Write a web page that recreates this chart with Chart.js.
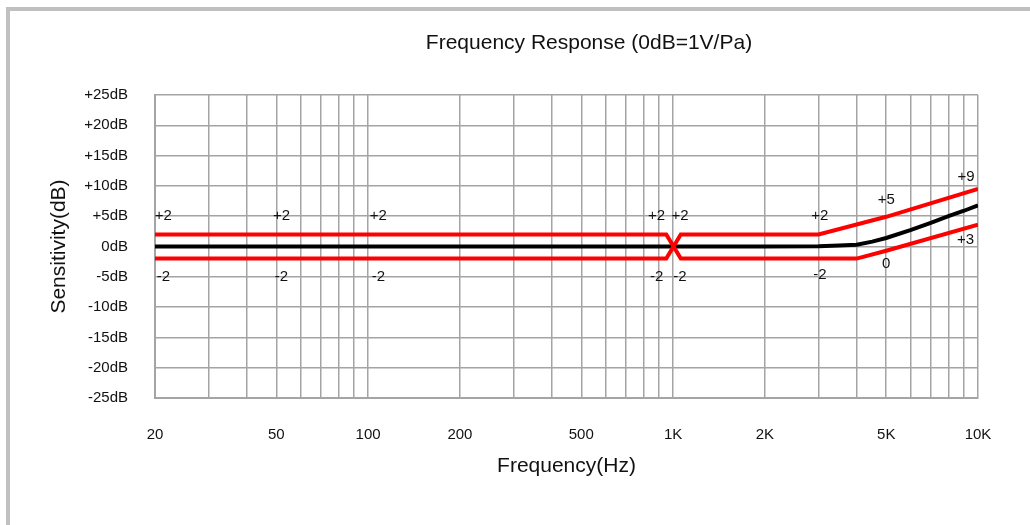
<!DOCTYPE html>
<html>
<head>
<meta charset="utf-8">
<script src="https://cdn.jsdelivr.net/npm/chart.js@4"></script>
<style>
    html, body { margin: 0; padding: 0; background: #fff; }
    #wrap { position: relative; width: 1030px; height: 525px; overflow: hidden; }
    #frame { position: absolute; left: 6px; top: 7px; right: -10px; bottom: -10px;
             border-left: 4px solid #c0c0c0; border-top: 4px solid #c0c0c0; }
    #chart { position: absolute; left: 0; top: 0; }
</style>
</head>
<body>
<div id="wrap">
    <div id="frame"></div>
    <canvas id="chart" width="1030" height="525"></canvas>
</div>
<script>
// grid lines on the frequency axis and the ones that get a label
const gridFreqs = [20, 30, 40, 50, 60, 70, 80, 90, 100, 200, 300, 400, 500, 600, 700, 800, 900,
    1000, 2000, 3000, 4000, 5000, 6000, 7000, 8000, 9000, 10000];
const tickFreqs = [20, 50, 100, 200, 500, 1000, 2000, 5000, 10000];
const tickTexts = ["20", "50", "100", "200", "500", "1K", "2K", "5K", "10K"];

// measured response (black)
const respFreq = [20, 100, 1000, 2000, 3000, 3500, 4000, 4500, 5000, 6000, 7000, 8000, 9000, 10000];
const respDb = [0, 0, 0, 0, 0.05, 0.15, 0.3, 0.8, 1.4, 2.7, 3.9, 5.0, 5.9, 6.8];

// tolerance limits (red)
const lowerFreq = [20, 950, 1060, 4000, 5000, 10000];
const lowerDb = [2, 2, -2, -2, -0.7, 3.6];
const upperFreq = [20, 950, 1060, 3000, 5000, 10000];
const upperDb = [-2, -2, 2, 2, 4.9, 9.5];

// small value notes written on the chart
const noteFreq = [21.3, 21.3, 52, 52, 108, 108, 883, 883, 1054, 1054, 3030, 3030, 5000, 5000, 9130, 9100];
const noteDb = [5, -5, 5, -5, 5, -5, 5, -5, 5, -5, 5, -4.7, 7.7, -2.8, 11.5, 1.1];
const noteText = ["+2", "-2", "+2", "-2", "+2", "-2", "+2", "-2", "+2", "-2", "+2", "-2", "+5", "0", "+9", "+3"];

const TITLE = "Frequency Response (0dB=1V/Pa)";
const FONT = "'Liberation Sans', Arial, sans-serif";
const GRID = "#a4a4a4";

function points(xs, ys) {
    return xs.map((x, i) => ({ x: x, y: ys[i] }));
}

// notes on the lines, plus the title (it sits right of the canvas centre in the original)
const notesPlugin = {
    id: "notes",
    afterDatasetsDraw(chart) {
        const ctx = chart.ctx;
        const xs = chart.scales.x;
        const ys = chart.scales.y;
        ctx.save();
        ctx.font = "15px " + FONT;
        ctx.fillStyle = "#111";
        ctx.textAlign = "center";
        ctx.textBaseline = "middle";
        noteText.forEach((t, i) => {
            ctx.fillText(t, xs.getPixelForValue(noteFreq[i]), ys.getPixelForValue(noteDb[i]));
        });
        ctx.font = "21px " + FONT;
        ctx.fillText(TITLE, 589, 43);
        ctx.restore();
    }
};

const ctx = document.getElementById("chart").getContext("2d");
const chart = new Chart(ctx, {
    type: "line",
    data: {
        datasets: [
            {
                label: "upper",
                data: points(upperFreq, upperDb),
                borderColor: "#ff0000",
                borderWidth: 4,
                pointRadius: 0,
                fill: false
            },
            {
                label: "lower",
                data: points(lowerFreq, lowerDb),
                borderColor: "#ff0000",
                borderWidth: 4,
                pointRadius: 0,
                fill: false
            },
            {
                label: "response",
                data: points(respFreq, respDb),
                borderColor: "#000000",
                borderWidth: 4,
                pointRadius: 0,
                fill: false
            }
        ]
    },
    options: {
        responsive: false,
        animation: false,
        devicePixelRatio: 1,
        layout: { padding: { left: 0, right: 52, top: 95, bottom: 0 } },
        plugins: {
            legend: { display: false },
            tooltip: { enabled: false },
            title: { display: false }
        },
        scales: {
            x: {
                type: "logarithmic",
                min: 20,
                max: 10000,
                afterBuildTicks(scale) {
                    scale.ticks = gridFreqs.map((v) => ({ value: v }));
                },
                afterFit(scale) {
                    scale.height = 127;
                },
                ticks: {
                    autoSkip: false,
                    maxRotation: 0,
                    padding: 28,
                    color: "#111",
                    font: { family: FONT, size: 15 },
                    callback: (v) => {
                        const k = tickFreqs.indexOf(v);
                        return k >= 0 ? tickTexts[k] : "";
                    }
                },
                grid: { color: GRID, lineWidth: 1.5, drawTicks: false },
                border: { color: GRID, width: 2 },
                title: {
                    display: true,
                    text: "Frequency(Hz)",
                    color: "#111",
                    font: { family: FONT, size: 21 },
                    padding: { top: 0, bottom: 46 }
                }
            },
            y: {
                min: -25,
                max: 25,
                afterFit(scale) {
                    scale.width = 155;
                },
                ticks: {
                    stepSize: 5,
                    padding: 27,
                    color: "#111",
                    font: { family: FONT, size: 15 },
                    callback: (v) => (v > 0 ? "+" + v : "" + v) + "dB"
                },
                grid: { color: GRID, lineWidth: 1.5, drawTicks: false },
                border: { color: GRID, width: 2 },
                title: {
                    display: true,
                    text: "Sensitivity(dB)",
                    color: "#111",
                    font: { family: FONT, size: 21 },
                    padding: { top: 47, bottom: 0 }
                }
            }
        }
    },
    plugins: [notesPlugin]
});
</script>
</body>
</html>
